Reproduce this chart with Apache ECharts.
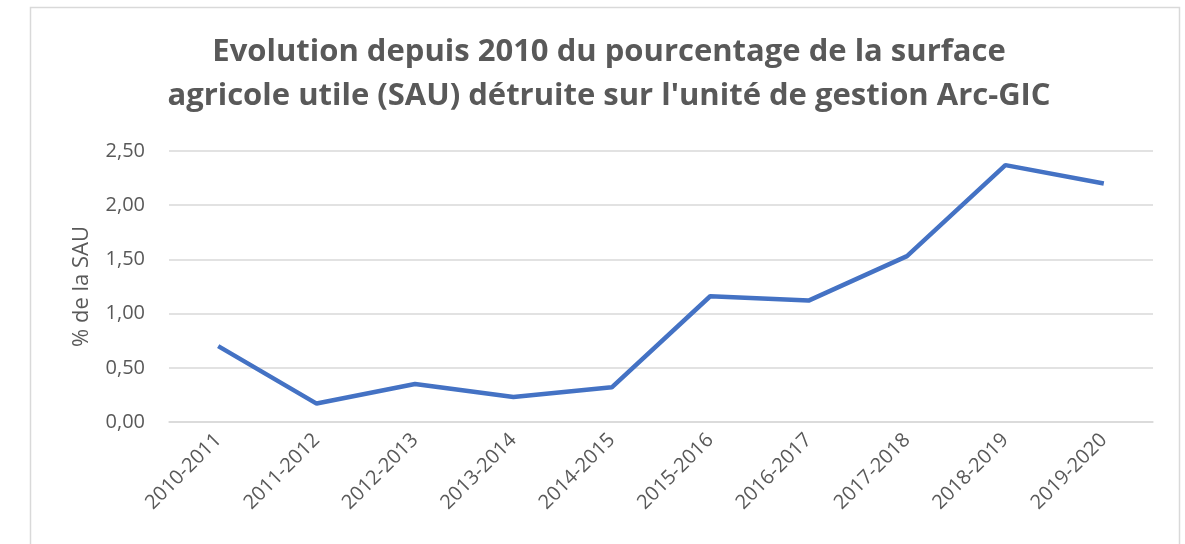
<!DOCTYPE html>
<html>
<head>
<meta charset="utf-8">
<script src="https://cdn.jsdelivr.net/npm/echarts@6/dist/echarts.min.js"></script>
<style>
  html, body { margin: 0; padding: 0; background: #fff; }
  #chart { width: 1185px; height: 544px; }
</style>
</head>
<body>
<div id="chart"></div>
<script>
// périodes (axe X)
var periodes = ['2010-2011', '2011-2012', '2012-2013', '2013-2014', '2014-2015',
  '2015-2016', '2016-2017', '2017-2018', '2018-2019', '2019-2020'];
// % de la SAU détruite
var pctSAU = [0.70, 0.17, 0.35, 0.23, 0.32, 1.16, 1.12, 1.53, 2.37, 2.20];
// graduations de l'axe Y
var yMin = 0, yMax = 2.5, yPas = 0.5;

var titre = 'Evolution depuis 2010 du pourcentage de la surface\nagricole utile (SAU) détruite sur l\'unité de gestion Arc-GIC';

var chart = echarts.init(document.getElementById('chart'));

var option = {
  backgroundColor: '#fff',
  textStyle: { fontFamily: 'Open Sans' },
  title: {
    text: titre,
    left: 604,
    textAlign: 'center',
    top: 25,
    textStyle: {
      fontFamily: 'Open Sans',
      fontWeight: 'bold',
      fontSize: 31,
      lineHeight: 44,
      color: '#595959'
    }
  },
  // cadre gris autour du graphique
  graphic: [{
    type: 'rect',
    shape: { x: 30.5, y: 7.5, width: 1149, height: 600 },
    style: { fill: 'none', stroke: '#d9d9d9', lineWidth: 1.5 },
    z: -1
  }],
  grid: {
    left: 169,
    right: 32,
    top: 151,
    bottom: 122
  },
  xAxis: {
    type: 'category',
    data: periodes,
    boundaryGap: true,
    axisLine: { lineStyle: { color: '#d9d9d9', width: 1.5 } },
    axisTick: { show: false },
    axisLabel: {
      rotate: 45,
      color: '#595959',
      fontSize: 20,
      margin: 15,
      interval: 0
    }
  },
  yAxis: {
    type: 'value',
    min: yMin,
    max: yMax,
    interval: yPas,
    name: '% de la SAU',
    nameLocation: 'middle',
    nameGap: 76,
    nameTextStyle: { color: '#595959', fontSize: 22 },
    axisLine: { show: false },
    axisTick: { show: false },
    axisLabel: {
      color: '#595959',
      fontSize: 20,
      margin: 24,
      formatter: function (v) { return v.toFixed(2).replace('.', ','); }
    },
    splitLine: { lineStyle: { color: '#d9d9d9', width: 1.5 } }
  },
  series: [{
    name: '% de la SAU',
    type: 'line',
    data: pctSAU,
    symbol: 'none',
    lineStyle: { color: '#4472C4', width: 4.5 },
    itemStyle: { color: '#4472C4' }
  }]
};

chart.setOption(option);
</script>
</body>
</html>
